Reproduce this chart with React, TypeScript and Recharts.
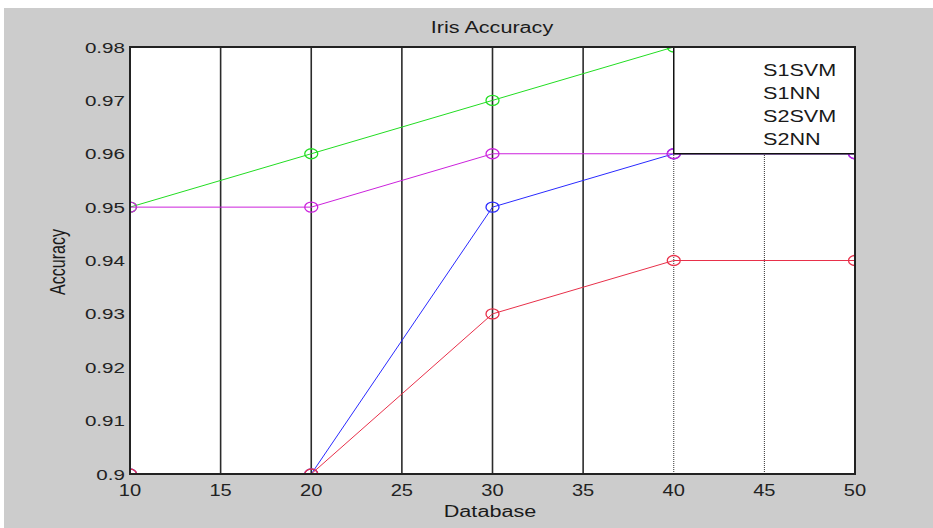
import React from "react";
import {
  LineChart,
  Line,
  XAxis,
  YAxis,
  CartesianGrid,
  ReferenceLine,
  ReferenceArea,
} from "recharts";

// database sizes on the x axis
const databaseSizes = [10, 20, 30, 40, 50];

// accuracy per series, one value per database size
const s1svmAccuracy = [0.9, 0.9, 0.95, 0.96, 0.96];
const s1nnAccuracy = [0.95, 0.96, 0.97, 0.98, 0.98];
const s2svmAccuracy = [0.9, 0.9, 0.93, 0.94, 0.94];
const s2nnAccuracy = [0.95, 0.95, 0.96, 0.96, 0.96];

const seriesNames = ["S1SVM", "S1NN", "S2SVM", "S2NN"];
const seriesKeys = ["s1svm", "s1nn", "s2svm", "s2nn"];
const seriesColors = ["#2a2aff", "#22dd22", "#e8304a", "#cc22dd"];

const xTicks = [10, 15, 20, 25, 30, 35, 40, 45, 50];
const yTicks = [0.9, 0.91, 0.92, 0.93, 0.94, 0.95, 0.96, 0.97, 0.98];
const solidGridX = [15, 20, 25, 30, 35];
const dottedGridX = [40, 45];

const data = databaseSizes.map((size, i) => ({
  size,
  s1svm: s1svmAccuracy[i],
  s1nn: s1nnAccuracy[i],
  s2svm: s2svmAccuracy[i],
  s2nn: s2nnAccuracy[i],
}));

const FONT = '"Liberation Sans", Arial, sans-serif';
const STRETCH = 1.35;

function YTick(props: any) {
  const { x, y, payload } = props;
  return (
    <text
      transform={`translate(${x},${y}) scale(1.33,1)`}
      textAnchor="end"
      dy="0.36em"
      fontSize={15.5}
      fontFamily={FONT}
      fill="#222"
    >
      {String(payload.value)}
    </text>
  );
}

function XTick(props: any) {
  const { x, y, payload } = props;
  return (
    <text
      transform={`translate(${x},${y}) scale(1.22,1)`}
      textAnchor="middle"
      dy="0.71em"
      fontSize={16.5}
      fontFamily={FONT}
      fill="#222"
    >
      {String(payload.value)}
    </text>
  );
}

function makeDot(color: string) {
  return (p: any) => (
    <ellipse
      key={`${color}-${p.index}`}
      cx={p.cx}
      cy={p.cy}
      rx={6.5}
      ry={5}
      fill="none"
      stroke={color}
      strokeWidth={1.3}
    />
  );
}

const stretchText = (extra: React.CSSProperties): React.CSSProperties => ({
  position: "absolute",
  whiteSpace: "nowrap",
  fontFamily: FONT,
  fontSize: 16,
  color: "#1a1a1a",
  lineHeight: "18px",
  ...extra,
});

export default function App() {
  return (
    <div
      style={{
        position: "absolute",
        left: 4,
        top: 8,
        width: 929,
        height: 520,
        background: "#cccccc",
      }}
    >
      <LineChart
        width={929}
        height={520}
        data={data}
        margin={{ top: 39, right: 78, bottom: 24, left: 66 }}
      >
        <ReferenceArea
          x1={10}
          x2={50}
          y1={0.9}
          y2={0.98}
          fill="#ffffff"
          fillOpacity={1}
          stroke="none"
        />
        <CartesianGrid
          vertical={false}
          stroke="#111"
          strokeDasharray="1 1"
        />
        {solidGridX.map((x) => (
          <ReferenceLine key={x} x={x} stroke="#2b2b2b" strokeWidth={1.6} />
        ))}
        {dottedGridX.map((x) => (
          <ReferenceLine
            key={x}
            x={x}
            stroke="#333"
            strokeDasharray="1 1"
          />
        ))}
        <XAxis
          dataKey="size"
          type="number"
          domain={[10, 50]}
          ticks={xTicks}
          axisLine={false}
          tickLine={false}
          tickSize={0}
          tickMargin={10}
          height={30}
          tick={<XTick />}
          allowDataOverflow
        />
        <YAxis
          type="number"
          domain={[0.9, 0.98]}
          ticks={yTicks}
          axisLine={false}
          tickLine={false}
          tickSize={0}
          tickMargin={5}
          width={60}
          tick={<YTick />}
          allowDataOverflow
        />
        {seriesKeys.map((key, i) => (
          <Line
            key={key}
            dataKey={key}
            name={seriesNames[i]}
            type="linear"
            stroke={seriesColors[i]}
            strokeWidth={1}
            dot={makeDot(seriesColors[i])}
            activeDot={false}
            isAnimationActive={false}
          />
        ))}
        <ReferenceArea
          x1={40}
          x2={50}
          y1={0.96}
          y2={0.98}
          fill="#ffffff"
          fillOpacity={1}
          stroke="#111"
          strokeWidth={1.5}
          zIndex={1500}
        />
        <ReferenceArea
          x1={10}
          x2={50}
          y1={0.9}
          y2={0.98}
          fill="none"
          stroke="#222"
          strokeWidth={2}
          zIndex={1600}
        />
      </LineChart>

      <div
        style={stretchText({
          left: 488,
          top: 20,
          transform: `translate(-50%,-50%) scaleX(${STRETCH})`,
        })}
      >
        Iris Accuracy
      </div>
      <div
        style={stretchText({
          left: 486,
          top: 504,
          transform: `translate(-50%,-50%) scaleX(${STRETCH})`,
        })}
      >
        Database
      </div>
      <div
        style={stretchText({
          left: 54,
          top: 254,
          transform: `translate(-50%,-50%) scaleX(${STRETCH}) rotate(-90deg)`,
        })}
      >
        Accuracy
      </div>
      {seriesNames.map((name, i) => (
        <div
          key={name}
          style={stretchText({
            left: 759,
            top: 63 + i * 23,
            transform: `translateY(-50%) scaleX(${STRETCH})`,
            transformOrigin: "left center",
          })}
        >
          {name}
        </div>
      ))}
    </div>
  );
}
